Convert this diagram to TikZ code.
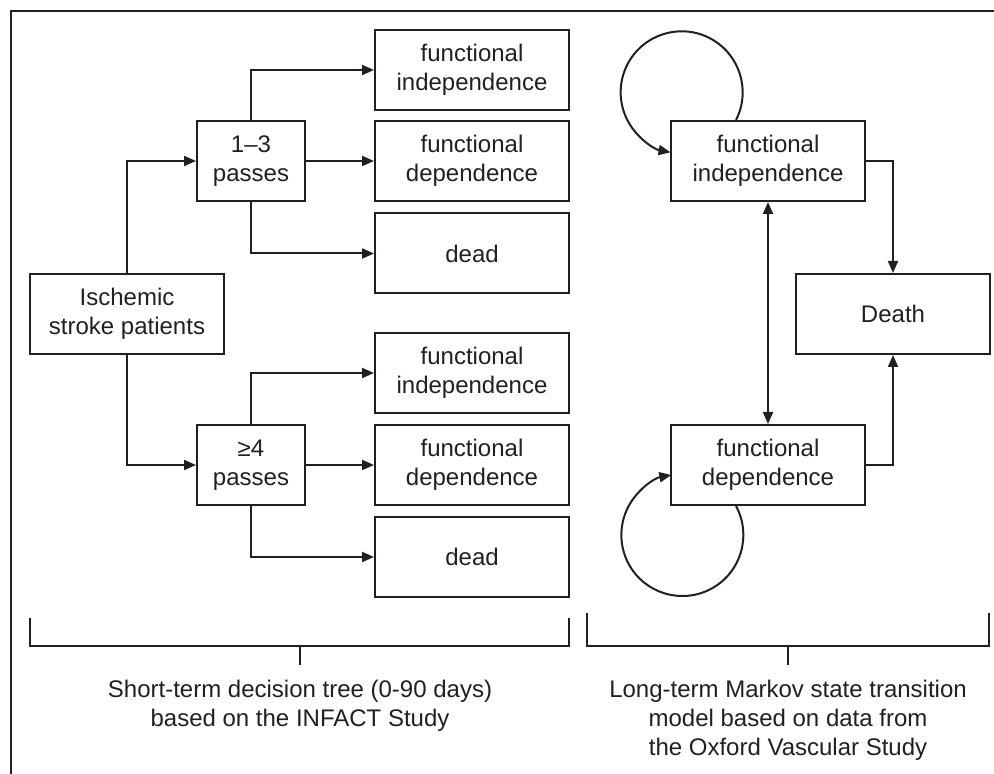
\documentclass[tikz,border=0pt]{standalone}
\usepackage{fontspec}
\setmainfont{Liberation Sans}
\usetikzlibrary{positioning,arrows.meta,calc}
\definecolor{ink}{RGB}{35,31,32}

\begin{document}
\begin{tikzpicture}[x=0.5pt,y=-0.5pt, draw=ink, line width=1pt, >={Triangle[length=6pt,width=5pt]},
  box/.style={draw,rectangle,align=center,inner sep=2pt,text=ink,font=\fontsize{12}{14.5}\selectfont},
  leaf/.style={box,minimum width=97pt,minimum height=40pt},
  pass/.style={box,minimum width=54pt,minimum height=40pt},
  state/.style={box,minimum width=97pt,minimum height=40pt},
  caption/.style={align=center,text=ink,font=\fontsize{12}{14.5}\selectfont}]
  \useasboundingbox (0,0) rectangle (994,774);
  \draw (11,774) -- (11,11) -- (994,11);

  % decision tree
  \node[box,minimum width=97pt,minimum height=40pt] (isch) at (127,314) {Ischemic\\stroke patients};
  \node[pass] (p13) at (251,161) {1--3\\passes};
  \node[pass] (p4) at (251,465) {≥4\\passes};
  \node[leaf] (fi1) at (472,70) {functional\\independence};
  \node[leaf] (fd1) at (472,161) {functional\\dependence};
  \node[leaf] (dd1) at (472,253.5) {dead};
  \node[leaf] (fi2) at (472,373) {functional\\independence};
  \node[leaf] (fd2) at (472,465) {functional\\dependence};
  \node[leaf] (dd2) at (472,557) {dead};
  \draw[->] (isch.north) |- (p13.west);
  \draw[->] (isch.south) |- (p4.west);
  \foreach \p/\a/\b/\c in {p13/fi1/fd1/dd1, p4/fi2/fd2/dd2} {
    \draw[->] (\p.north) |- (\a.west);
    \draw[->] (\p.east) -- (\b.west);
    \draw[->] (\p.south) |- (\c.west);
  }

  % markov model
  \node[state] (fi) at (768,161) {functional\\independence};
  \node[state] (death) at (893,314) {Death};
  \node[state] (fd) at (768,465) {functional\\dependence};
  \draw[<->] (fi.south) -- (fd.north);
  \draw[->] (fi.east) -| (death.north);
  \draw[->] (fd.east) -| (death.south);
  \draw[->] ([xshift=-16pt]fi.north) arc[start angle=-27,end angle=259.5,radius=30.5pt];
  \draw[->] ([xshift=-16pt]fd.south) arc[start angle=28.4,end angle=-259.6,radius=30.5pt];

  % brackets
  \draw (30,618) |- (569,646) -- (569,618);
  \draw (300,646) -- (300,665) coordinate (tshort);
  \node[caption] (shortcap) at (300,705.5) {Short-term decision tree (0-90 days)\\based on the INFACT Study};
  \draw (587,613) |- (989,646) -- (989,613);
  \draw (788,646) -- (788,665) coordinate (tlong);
  \node[caption] (longcap) at (788,720) {Long-term Markov state transition\\model based on data from\\the Oxford Vascular Study};
\end{tikzpicture}
\end{document}
